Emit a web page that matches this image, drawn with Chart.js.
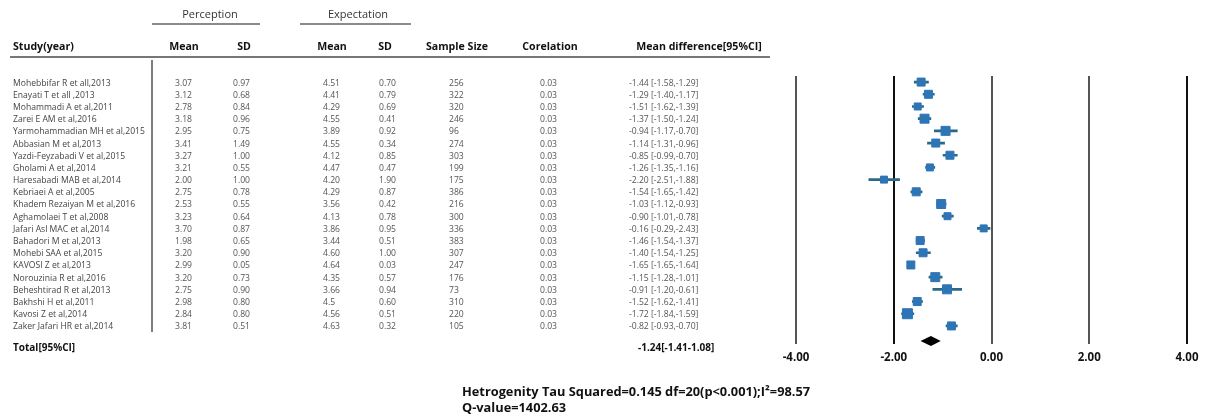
<!DOCTYPE html>
<html>
<head>
<meta charset="utf-8">
<style>
  html, body { margin: 0; padding: 0; background: #fff; }
  #wrap { position: relative; width: 1210px; height: 416px; }
</style>
</head>
<body>
<div id="wrap"><canvas id="forest" width="1210" height="416"></canvas></div>
<script src="https://cdn.jsdelivr.net/npm/chart.js"></script>
<script>
    // Study data
    const studies = [
        'Mohebbifar R et all,2013', 'Enayati T et all ,2013', 'Mohammadi A et al,2011',
        'Zarei E AM et al,2016', 'Yarmohammadian MH et al,2015', 'Abbasian M et al,2013',
        'Yazdi-Feyzabadi V et al,2015', 'Gholami A et al,2014', 'Haresabadi MAB et al,2014',
        'Kebriaei A et al,2005', 'Khadem Rezaiyan M et al,2016', 'Aghamolaei T et al,2008',
        'Jafari Asl MAC et al,2014', 'Bahadori M et al,2013', 'Mohebi SAA et al,2015',
        'KAVOSI Z et al,2013', 'Norouzinia R et al,2016', 'Beheshtirad R et al,2013',
        'Bakhshi H et al,2011', 'Kavosi Z et al,2014', 'Zaker Jafari HR et al,2014'
    ];
    const percMean = ['3.07','3.12','2.78','3.18','2.95','3.41','3.27','3.21','2.00','2.75','2.53','3.23','3.70','1.98','3.20','2.99','3.20','2.75','2.98','2.84','3.81'];
    const percSD   = ['0.97','0.68','0.84','0.96','0.75','1.49','1.00','0.55','1.00','0.78','0.55','0.64','0.87','0.65','0.90','0.05','0.73','0.90','0.80','0.80','0.51'];
    const expMean  = ['4.51','4.41','4.29','4.55','3.89','4.55','4.12','4.47','4.20','4.29','3.56','4.13','3.86','3.44','4.60','4.64','4.35','3.66','4.5','4.56','4.63'];
    const expSD    = ['0.70','0.79','0.69','0.41','0.92','0.34','0.85','0.47','1.90','0.87','0.42','0.78','0.95','0.51','1.00','0.03','0.57','0.94','0.60','0.51','0.32'];
    const sampleSize = [256, 322, 320, 246, 96, 274, 303, 199, 175, 386, 216, 300, 336, 383, 307, 247, 176, 73, 310, 220, 105];
    const corelation = ['0.03','0.03','0.03','0.03','0.03','0.03','0.03','0.03','0.03','0.03','0.03','0.03','0.03','0.03','0.03','0.03','0.03','0.03','0.03','0.03','0.03'];
    const mdText = [
        '-1.44 [-1.58,-1.29]', '-1.29 [-1.40,-1.17]', '-1.51 [-1.62,-1.39]', '-1.37 [-1.50,-1.24]',
        '-0.94 [-1.17,-0.70]', '-1.14 [-1.31,-0.96]', '-0.85 [-0.99,-0.70]', '-1.26 [-1.35,-1.16]',
        '-2.20 [-2.51,-1.88]', '-1.54 [-1.65,-1.42]', '-1.03 [-1.12,-0.93]', '-0.90 [-1.01,-0.78]',
        '-0.16 [-0.29,-2.43]', '-1.46 [-1.54,-1.37]', '-1.40 [-1.54,-1.25]', '-1.65 [-1.65,-1.64]',
        '-1.15 [-1.28,-1.01]', '-0.91 [-1.20,-0.61]', '-1.52 [-1.62,-1.41]', '-1.72 [-1.84,-1.59]',
        '-0.82 [-0.93,-0.70]'
    ];

    // Plotted values (mean difference and 95% CI)
    const md     = [-1.44, -1.29, -1.51, -1.37, -0.94, -1.14, -0.85, -1.26, -2.20, -1.54, -1.03, -0.90, -0.16, -1.46, -1.40, -1.65, -1.15, -0.91, -1.52, -1.72, -0.82];
    const ciLow  = [-1.58, -1.40, -1.62, -1.50, -1.17, -1.31, -0.99, -1.35, -2.51, -1.65, -1.12, -1.01, -0.29, -1.54, -1.54, -1.65, -1.28, -1.20, -1.62, -1.84, -0.93];
    const ciHigh = [-1.29, -1.17, -1.39, -1.24, -0.70, -0.96, -0.70, -1.16, -1.88, -1.42, -0.93, -0.78, -0.03, -1.37, -1.25, -1.64, -1.01, -0.61, -1.41, -1.59, -0.70];
    const totalMd = -1.24, totalLow = -1.41, totalHigh = -1.08;
    const totalText = '-1.24[-1.41-1.08]';
    const xTicks = [-4, -2, 0, 2, 4];

    // marker box sizes in px (study weights, styling only)
    const boxPx = [8, 8, 7, 9, 9, 8, 8, 7, 7, 8, 9, 7, 7, 8, 8, 8, 9, 9, 8, 10, 8];

    const FONT = '"Open Sans", "Liberation Sans", sans-serif';
    const rowLabels = studies.concat(['Total']);

    const tablePlugin = {
        id: 'forestTable',
        afterDatasetsDraw(chart) {
            const ctx = chart.ctx;
            const xs = chart.scales.x;
            const ys = chart.scales.y;
            // pooled estimate diamond
            const py = ys.getPixelForValue(studies.length) + 3;
            ctx.save();
            ctx.fillStyle = '#000';
            ctx.beginPath();
            ctx.moveTo(xs.getPixelForValue(totalLow) - 2, py);
            ctx.lineTo(xs.getPixelForValue(totalMd), py - 5);
            ctx.lineTo(xs.getPixelForValue(totalHigh) + 2, py);
            ctx.lineTo(xs.getPixelForValue(totalMd), py + 5);
            ctx.closePath();
            ctx.fill();
            ctx.restore();
        },
        afterDraw(chart) {
            const ctx = chart.ctx;
            const ys = chart.scales.y;
            ctx.save();

            // group headers
            ctx.fillStyle = '#333';
            ctx.font = '11px ' + FONT;
            ctx.textAlign = 'center';
            ctx.textBaseline = 'middle';
            ctx.fillText('Perception', 210, 15);
            ctx.fillText('Expectation', 358, 15);
            ctx.strokeStyle = '#666';
            ctx.lineWidth = 1.5;
            ctx.beginPath();
            ctx.moveTo(152, 24); ctx.lineTo(260, 24);
            ctx.moveTo(300, 24); ctx.lineTo(411, 24);
            ctx.stroke();

            // column headers
            ctx.fillStyle = '#111';
            ctx.font = 'bold 10.6px ' + FONT;
            ctx.textAlign = 'left';
            ctx.fillText('Study(year)', 13, 47);
            ctx.textAlign = 'center';
            ctx.fillText('Mean', 184, 47);
            ctx.fillText('SD', 244, 47);
            ctx.fillText('Mean', 332, 47);
            ctx.fillText('SD', 385, 47);
            ctx.fillText('Sample Size', 457, 47);
            ctx.fillText('Corelation', 550, 47);
            ctx.fillText('Mean difference[95%CI]', 699, 47);

            ctx.strokeStyle = '#777';
            ctx.lineWidth = 2;
            ctx.beginPath();
            ctx.moveTo(10, 57); ctx.lineTo(770, 57);
            ctx.stroke();
            ctx.strokeStyle = '#555';
            ctx.lineWidth = 1.5;
            ctx.beginPath();
            ctx.moveTo(152, 60); ctx.lineTo(152, 332);
            ctx.stroke();

            // study rows
            ctx.font = '8.6px ' + FONT;
            ctx.textAlign = 'left';
            studies.forEach((name, i) => {
                const py = ys.getPixelForValue(i) + 1;
                ctx.fillStyle = '#444';
                ctx.fillText(name, 13, py);
                ctx.fillStyle = '#555';
                ctx.fillText(percMean[i], 175, py);
                ctx.fillText(percSD[i], 233, py);
                ctx.fillText(expMean[i], 323, py);
                ctx.fillText(expSD[i], 379, py);
                ctx.fillText(String(sampleSize[i]), 449, py);
                ctx.fillText(corelation[i], 540, py);
                ctx.fillText(mdText[i], 629, py);
            });

            // total row
            const ty = ys.getPixelForValue(studies.length) + 10;
            ctx.fillStyle = '#111';
            ctx.font = 'bold 10px ' + FONT;
            ctx.fillText('Total[95%CI]', 13, ty);
            ctx.fillText(totalText, 638, ty);

            // heterogeneity footer
            ctx.font = 'bold 12.8px ' + FONT;
            ctx.fillText('Hetrogenity Tau Squared=0.145 df=20(p<0.001);I\u00B2=98.57', 462, 392);
            ctx.fillText('Q-value=1402.63', 462, 408);
            ctx.restore();
        }
    };

    function initForest() {
        const ctx = document.getElementById('forest').getContext('2d');
        new Chart(ctx, {
            type: 'bar',
            data: {
                labels: rowLabels,
                datasets: [
                    {
                        type: 'scatter',
                        label: 'Mean difference',
                        data: md.map((v, i) => ({ x: v, y: rowLabels[i] })),
                        pointStyle: 'rect',
                        pointRadius: boxPx.map(s => s / Math.SQRT2),
                        backgroundColor: '#2e75b6',
                        borderColor: '#2e75b6',
                        borderWidth: 1,
                        order: 0
                    },
                    {
                        label: '95% CI',
                        data: ciLow.map((lo, i) => [lo, ciHigh[i]]).concat([null]),
                        backgroundColor: '#2b6a86',
                        barThickness: 2,
                        order: 1
                    }
                ]
            },
            options: {
                indexAxis: 'y',
                responsive: false,
                animation: false,
                layout: { padding: { left: 796, right: 23, top: 76, bottom: 44 } },
                plugins: {
                    legend: { display: false },
                    tooltip: { enabled: false }
                },
                scales: {
                    y: {
                        type: 'category',
                        labels: rowLabels,
                        offset: true,
                        display: false
                    },
                    x: {
                        type: 'linear',
                        min: -4,
                        max: 4,
                        afterBuildTicks: axis => { axis.ticks = xTicks.map(v => ({ value: v })); },
                        border: { display: false },
                        grid: {
                            drawTicks: false,
                            lineWidth: 2,
                            color: c => (c.tick && (c.tick.value === -2 || c.tick.value === 4)) ? '#111' : '#555'
                        },
                        ticks: {
                            padding: 7,
                            color: '#111',
                            font: { family: FONT, size: 11.5, weight: 'bold' },
                            callback: v => Number(v).toFixed(2)
                        }
                    }
                }
            },
            plugins: [tablePlugin]
        });
    }

    document.addEventListener('DOMContentLoaded', initForest);
</script>
</body>
</html>
